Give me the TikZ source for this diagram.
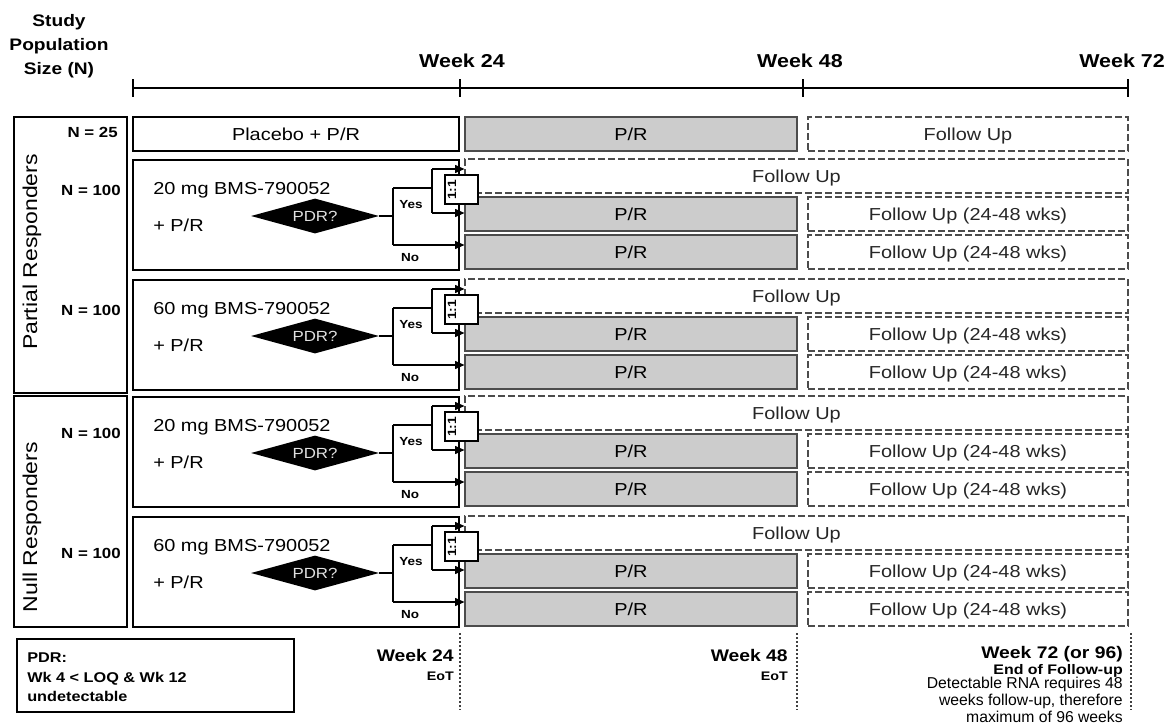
\documentclass[tikz,border=0pt]{standalone}
\usepackage{fontspec}
\setmainfont[FakeStretch=1.15]{Liberation Sans}
\newfontfamily\plainfont{Liberation Sans}
\usetikzlibrary{arrows.meta,shapes.geometric}
\newcommand\mkbox[7]{\node[#1,inner sep=0pt,minimum width={((#5)-(#3))*0.75pt},minimum height={((#6)-(#4))*0.75pt}] (#2) at ({((#3)+(#5))/2},{((#4)+(#6))/2}) {#7};}
\newcommand\fs[2]{\fontsize{#1}{#2}\selectfont}
\begin{document}
\begin{tikzpicture}[x=0.75pt,y=-0.75pt,
  lbl/.style={font=\fs{13}{15}, inner sep=0pt, anchor=base west},
  boxtxt/.style={font=\fs{13}{15}, text height=9.3pt, text depth=0pt},
  dosebox/.style={draw=black, line width=0.9pt, fill=white, boxtxt},
  grayrow/.style={draw=black!70, line width=0.8pt, fill=gray!40, boxtxt},
  fuprow/.style={draw=black!70, line width=0.8pt, dash pattern=on 5pt off 2.5pt, boxtxt, text=black!85},
  grp/.style={draw=black, line width=0.9pt},
  nlbl/.style={font=\bfseries\fs{11}{13}, inner sep=0pt, anchor=base east},
  wkhead/.style={font=\bfseries\fs{14}{16}, inner sep=0pt, anchor=base},
  tl/.style={line width=1.4pt},
  conn/.style={line width=0.8pt},
  arr/.style={conn, -{Triangle[length=7pt,width=6pt]}},
  pdr/.style={diamond, aspect=3.6, fill=black, text=black!12, inner sep=0pt, minimum width=96pt, minimum height=26.25pt, font=\fs{11}{13}},
  yn/.style={font=\bfseries\fs{8.8}{10}, inner sep=0pt, anchor=base},
  ratiobox/.style={draw=black, line width=0.8pt, fill=white},
  ratiotxt/.style={font=\bfseries\fs{9}{10}, inner sep=0pt, rotate=90},
  dotln/.style={line width=1.6pt, dash pattern=on 1.6pt off 1.4pt, black!75},
  wkfoot/.style={font=\bfseries\fs{12.6}{14}, inner sep=0pt, anchor=base east},
  eot/.style={font=\bfseries\fs{9.3}{11}, inner sep=0pt, anchor=base east},
  note/.style={font=\plainfont\fs{11.8}{13}, inner sep=0pt, anchor=base east},
  legtxt/.style={font=\bfseries\fs{10.6}{13}, inner sep=0pt, anchor=base west},
  side/.style={font=\fs{15}{17}, inner sep=0pt, rotate=90}
]
\useasboundingbox (0,0) rectangle (1173,725);

% header
\node[font=\bfseries\fs{12.5}{18}, align=center, anchor=north, inner sep=0pt] (spn) at (59,14) {Study\\Population\\Size (N)};
\node[wkhead] (w24) at (462,67) {Week 24};
\node[wkhead] (w48) at (800,67) {Week 48};
\node[wkhead] (w72) at (1122,67) {Week 72};
\coordinate (t0) at (133,88);
\coordinate (t1) at (460,88);
\coordinate (t2) at (803,88);
\coordinate (t3) at (1128,88);
\draw[tl] (t0) -- (t3);
\foreach \c in {t0,t1,t2,t3} \draw[tl] ([yshift=6.75pt]\c) -- ([yshift=-6.75pt]\c);

% left panel
\mkbox{grp}{partial}{14}{117}{127}{393}{}
\mkbox{grp}{null}{14}{396}{127}{627}{}
\node[side] (lpart) at (32,252) {Partial Responders};
\node[side] (lnull) at (32,527) {Null Responders};
\node[nlbl] (n25) at (118,137) {N = 25};
\node[nlbl] (n1) at (121,195) {N = 100};
\node[nlbl] (n2) at (121,315) {N = 100};
\node[nlbl] (n3) at (121,438) {N = 100};
\node[nlbl] (n4) at (121,558) {N = 100};

% placebo row
\mkbox{dosebox}{plac}{133}{117}{459}{151}{Placebo + P/R}
\mkbox{grayrow}{plpr}{465}{117}{797}{151}{P/R}
\mkbox{fuprow}{plfu}{808}{117}{1128}{151}{Follow Up}

% dose groups
\foreach \T/\dose [count=\i] in {160/20,280/60,397/20,517/60} {
  \mkbox{dosebox}{dose\i}{133}{\T}{459}{\T+110}{}
  \node[lbl] (dn\i) at (153,\T+34) {\dose\ mg BMS-790052};
  \node[lbl] (dp\i) at (153,\T+71) {+ P/R};
  \node[pdr] (pdr\i) at (315,\T+56) {PDR?};
  \mkbox{fuprow}{rowA\i}{465}{\T-1}{1128}{\T+33}{Follow Up}
  \mkbox{grayrow}{rowB\i}{465}{\T+37}{797}{\T+71}{P/R}
  \mkbox{fuprow}{fuB\i}{808}{\T+37}{1128}{\T+71}{Follow Up (24-48 wks)}
  \mkbox{grayrow}{rowC\i}{465}{\T+75}{797}{\T+109}{P/R}
  \mkbox{fuprow}{fuC\i}{808}{\T+75}{1128}{\T+109}{Follow Up (24-48 wks)}
  \coordinate (s\i) at (393,\T+56);
  \coordinate (yt\i) at (393,\T+28);
  \coordinate (nb\i) at (393,\T+85);
  \coordinate (yj\i) at (432,\T+28);
  \coordinate (ya\i) at (432,\T+9);
  \coordinate (yb\i) at (432,\T+53);
  \draw[conn] (pdr\i.east) -- (s\i);
  \draw[conn] (yt\i) -- (nb\i);
  \draw[conn] (yt\i) -- (yj\i);
  \draw[conn] (ya\i) -- (yb\i);
  \draw[arr] (ya\i) -- (ya\i -| rowA\i.west);
  \draw[arr] (yb\i) -- (yb\i -| rowB\i.west);
  \draw[arr] (nb\i) -- (nb\i -| rowC\i.west);
  \node[yn] (yes\i) at (411,\T+48) {Yes};
  \node[yn] (no\i) at (410,\T+101) {No};
  \mkbox{ratiobox}{rb\i}{445}{\T+15}{478}{\T+44}{}
  \node[ratiotxt] (rt\i) at (452,\T+30) {1:1};
}

% footer
\draw[dotln] (460,633) -- (460,710);
\draw[dotln] (797,633) -- (797,710);
\draw[dotln] (1131,633) -- (1131,710);
\node[wkfoot] (f24) at (454,661) {Week 24};
\node[eot] (e24) at (454,680) {EoT};
\node[wkfoot] (f48) at (788,661) {Week 48};
\node[eot] (e48) at (788,680) {EoT};
\node[wkfoot] (f72) at (1123,658) {Week 72 (or 96)};
\node[font=\bfseries\fs{10.4}{12}, inner sep=0pt, anchor=base east] (efu) at (1123,674) {End of Follow-up};
\node[note] (m1) at (1123,688.5) {Detectable RNA requires 48};
\node[note] (m2) at (1123,705.5) {weeks follow-up, therefore};
\node[note] (m3) at (1123,722) {maximum of 96 weeks};

% legend
\mkbox{grp}{legend}{17}{639}{294}{712}{}
\node[legtxt] (lg1) at (27,662) {PDR:};
\node[legtxt] (lg2) at (27,682) {Wk 4 < LOQ \& Wk 12};
\node[legtxt] (lg3) at (27,701) {undetectable};
\end{tikzpicture}
\end{document}
